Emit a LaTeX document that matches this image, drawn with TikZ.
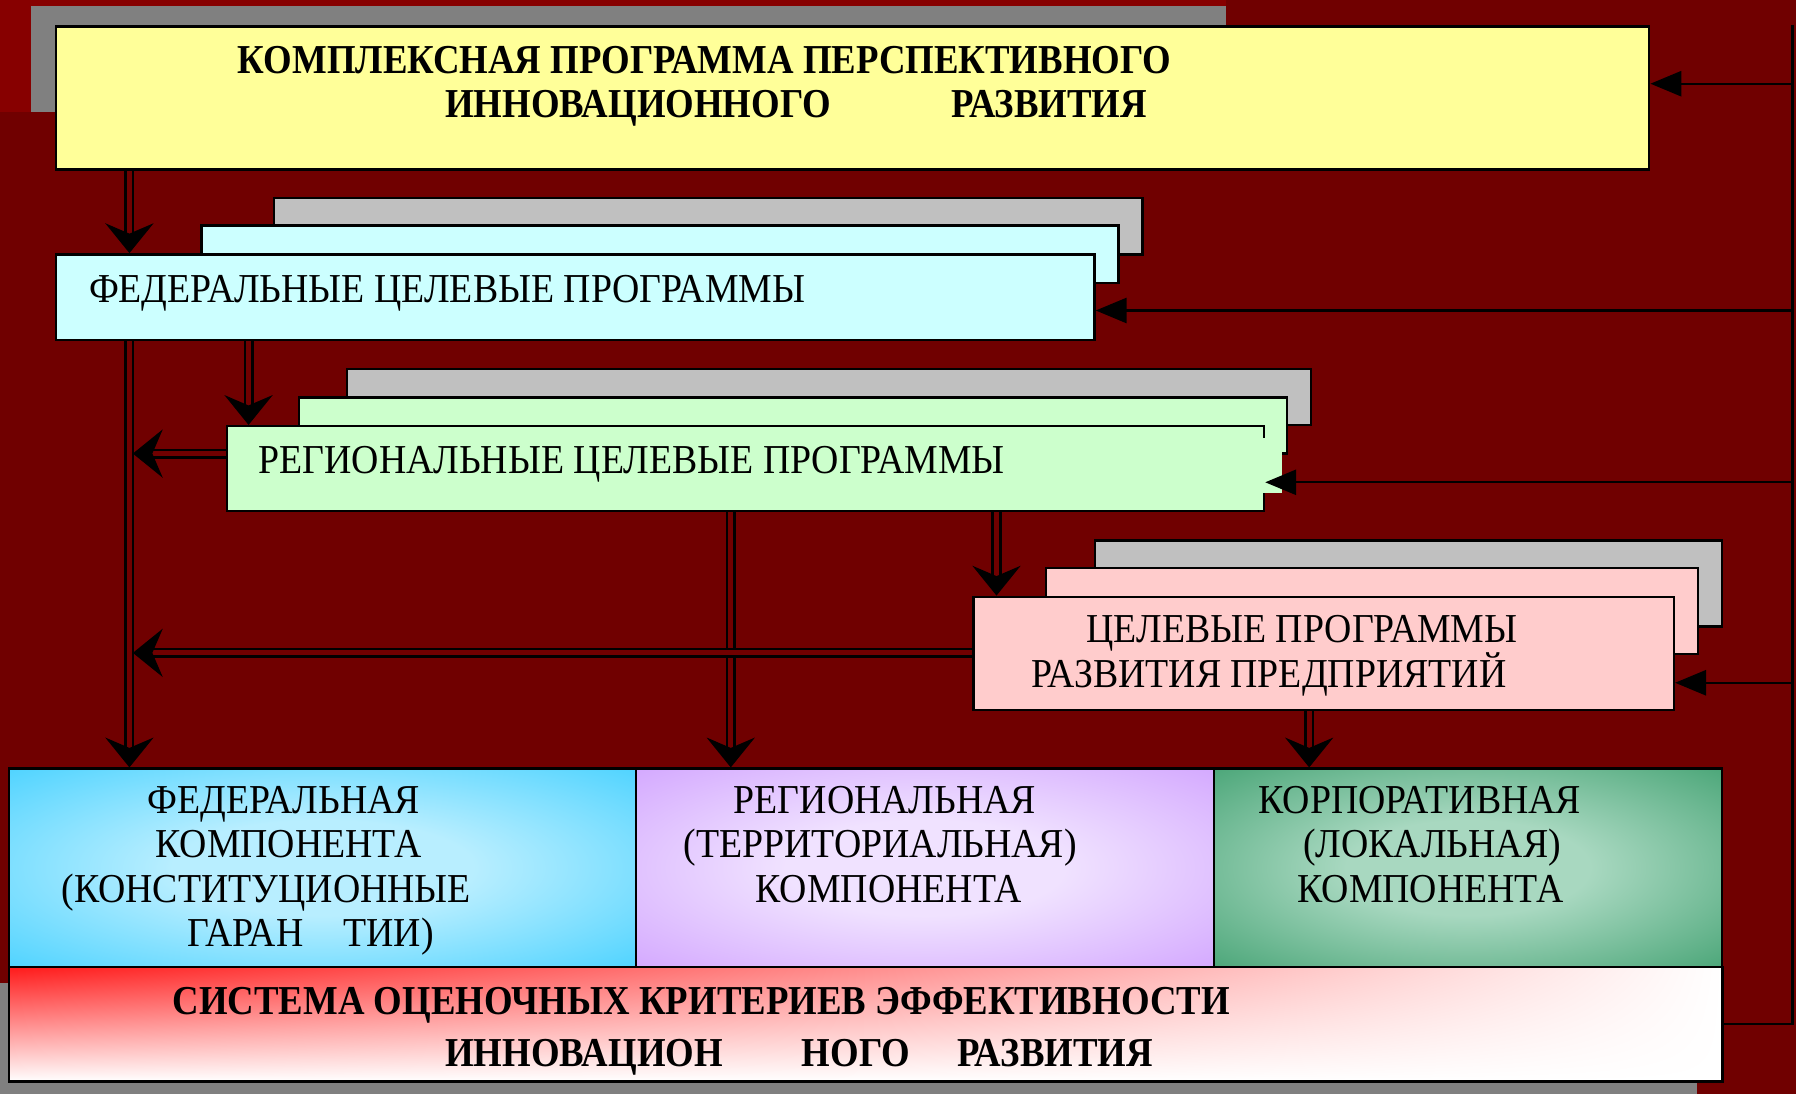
\documentclass[tikz,border=0pt]{standalone}
\usepackage{fontspec}
\setmainfont{Liberation Serif}
\newfontfamily\condn[FakeStretch=0.92]{Liberation Serif}
\newfontfamily\condb[FakeStretch=0.895]{Liberation Serif Bold}
\usetikzlibrary{arrows.meta,shadings}
\definecolor{bgred}{HTML}{700000}
\definecolor{topred}{HTML}{870000}
\definecolor{shadow}{HTML}{808080}
\definecolor{backgray}{HTML}{C0C0C0}
\definecolor{titlefill}{HTML}{FFFF99}
\definecolor{fedfill}{HTML}{CCFFFF}
\definecolor{regfill}{HTML}{CCFFCC}
\definecolor{entfill}{HTML}{FFCCCC}
\definecolor{fedkA}{HTML}{33CCFF}
\definecolor{fedkB}{HTML}{B8EEFF}
\definecolor{regkA}{HTML}{CC99FF}
\definecolor{regkB}{HTML}{F0E2FF}
\definecolor{corkA}{HTML}{339966}
\definecolor{corkB}{HTML}{A8D8C0}
\definecolor{sysred}{HTML}{FF1A1A}
\pgfdeclareradialshading{fedglow}{\pgfpoint{0bp}{0bp}}%
  {color(0bp)=(fedkB); color(12bp)=(fedkB); color(42bp)=(fedkA); color(50bp)=(fedkA)}
\pgfdeclareradialshading{regglow}{\pgfpoint{0bp}{0bp}}%
  {color(0bp)=(regkB); color(12bp)=(regkB); color(42bp)=(regkA); color(50bp)=(regkA)}
\pgfdeclareradialshading{corglow}{\pgfpoint{0bp}{0bp}}%
  {color(0bp)=(corkB); color(12bp)=(corkB); color(42bp)=(corkA); color(50bp)=(corkA)}
\newcommand{\txtsize}{\fontsize{10.2}{12}\selectfont}

\begin{document}
\begin{tikzpicture}[x=0.01cm,y=-0.01cm,
   box/.style={draw=black,line width=0.6pt,inner sep=0pt,anchor=north west},
   nt/.style={inner sep=0pt,anchor=base west,font=\condn\txtsize},
   bt/.style={inner sep=0pt,anchor=base west,font=\condb\txtsize},
   dbl/.style={draw=black,double=bgred,double distance=1.2pt,line width=0.65pt,
     -{Stealth[length=0.26cm,width=0.42cm,inset=0.09cm]}},
   fb/.style={draw=black,line width=0.55pt},
   fbarrow/.style={fb,-{Triangle[length=0.27cm,width=0.22cm]}}]
   \useasboundingbox (0,0) rectangle (1568,955);
   % background
   \fill[bgred]  (0,0) rectangle (1568,955);
   \fill[topred] (0,0) rectangle (1070,98);
   \fill[shadow] (27,5) rectangle (1070,98);
   \fill[shadow] (0,858) rectangle (1482,955);
   % boxes
   \node[box,fill=titlefill,minimum width=13.90cm,minimum height=1.25cm] (title) at (48,22) {};
   \node[box,fill=backgray,minimum width=7.58cm,minimum height=0.49cm] (fedb1) at (238,172) {};
   \node[box,fill=fedfill,minimum width=8.00cm,minimum height=0.50cm] (fedb2) at (175,196) {};
   \node[box,fill=fedfill,minimum width=9.06cm,minimum height=0.75cm] (fed) at (48,221) {};
   \node[box,fill=backgray,minimum width=8.41cm,minimum height=0.49cm] (regb1) at (302,321) {};
   \node[box,fill=regfill,minimum width=8.62cm,minimum height=0.49cm] (regb2) at (260,346) {};
   \node[box,fill=regfill,minimum width=9.05cm,minimum height=0.74cm] (reg) at (197,371) {};
   \fill[regfill] (1101,382) rectangle (1119,430);
   \node[box,fill=backgray,minimum width=5.47cm,minimum height=0.75cm] (entb1) at (955,471) {};
   \node[box,fill=entfill,minimum width=5.69cm,minimum height=0.75cm] (entb2) at (912,495) {};
   \node[box,fill=entfill,minimum width=6.11cm,minimum height=0.99cm] (ent) at (849,520) {};
   \node[box,shade,shading=fedglow,minimum width=5.47cm,minimum height=1.73cm] (fedk) at (7,670) {};
   \node[box,shade,shading=regglow,minimum width=5.05cm,minimum height=1.73cm] (regk) at (554,670) {};
   \node[box,shade,shading=corglow,minimum width=4.43cm,minimum height=1.73cm] (corpk) at (1059,670) {};
   \node[box,upper left=sysred,upper right=white,lower left=white,lower right=white,
     minimum width=14.95cm,minimum height=1.00cm] (sys) at (7,843) {};
   % texts
   \node[bt] (t1) at (207,64) {КОМПЛЕКСНАЯ ПРОГРАММА ПЕРСПЕКТИВНОГО};
   \node[bt] (t2) at (388,103) {ИННОВАЦИОННОГО\hspace{1.05cm}РАЗВИТИЯ};
   \node[nt] (ft) at (77,264) {ФЕДЕРАЛЬНЫЕ ЦЕЛЕВЫЕ ПРОГРАММЫ};
   \node[nt] (rt) at (225,413) {РЕГИОНАЛЬНЫЕ ЦЕЛЕВЫЕ ПРОГРАММЫ};
   \node[nt] (et1) at (948,561) {ЦЕЛЕВЫЕ ПРОГРАММЫ};
   \node[nt] (et2) at (900,600) {РАЗВИТИЯ ПРЕДПРИЯТИЙ};
   \node[nt] (fk1) at (128,710) {ФЕДЕРАЛЬНАЯ};
   \node[nt] (fk2) at (135,749) {КОМПОНЕНТА};
   \node[nt] (fk3) at (53,788) {(КОНСТИТУЦИОННЫЕ};
   \node[nt] (fk4) at (163,826) {ГАРАН\hspace{0.35cm}ТИИ)};
   \node[nt] (rk1) at (640,710) {РЕГИОНАЛЬНАЯ};
   \node[nt] (rk2) at (596,749) {(ТЕРРИТОРИАЛЬНАЯ)};
   \node[nt] (rk3) at (659,788) {КОМПОНЕНТА};
   \node[nt] (ck1) at (1098,710) {КОРПОРАТИВНАЯ};
   \node[nt] (ck2) at (1137,749) {(ЛОКАЛЬНАЯ)};
   \node[nt] (ck3) at (1132,788) {КОМПОНЕНТА};
   \node[bt] (s1) at (150,886) {СИСТЕМА ОЦЕНОЧНЫХ КРИТЕРИЕВ ЭФФЕКТИВНОСТИ};
   \node[bt] (s2) at (388,931) {ИННОВАЦИОН\hspace{0.69cm}НОГО\hspace{0.41cm}РАЗВИТИЯ};
   % links
   \coordinate (tl) at (113,0);
   \coordinate (fr) at (217,0);
   \coordinate (rr) at (638,0);
   \coordinate (re) at (870,0);
   \coordinate (ec) at (1143,0);
   \coordinate (ra) at (116,396);
   \coordinate (ea) at (116,570);
   \coordinate (rl) at (1565,0);
   \draw[dbl] (title.south -| tl) -- (fed.north -| tl);
   \draw[dbl] (fed.south -| tl) -- (fedk.north -| tl);
   \draw[dbl] (fed.south -| fr) -- (reg.north -| fr);
   \draw[dbl] (reg.west |- ra) -- (ra);
   \draw[dbl] (reg.south -| rr) -- (regk.north -| rr);
   \draw[dbl] (reg.south -| re) -- (ent.north -| re);
   \draw[dbl] (ent.west |- ea) -- (ea);
   \draw[dbl] (ent.south -| ec) -- (corpk.north -| ec);
   % feedback
   \draw[fb] (sys.east) -- (sys.east -| rl) -- (rl |- title.north);
   \draw[fbarrow] ([yshift=0.125cm]title.east -| rl) -- ([yshift=0.125cm]title.east);
   \draw[fbarrow] ([yshift=-0.115cm]fed.east -| rl) -- ([yshift=-0.115cm]fed.east);
   \draw[fbarrow] ([yshift=-0.12cm]reg.east -| rl) -- ([yshift=-0.12cm]reg.east);
   \draw[fbarrow] ([yshift=-0.255cm]ent.east -| rl) -- ([yshift=-0.255cm]ent.east);
\end{tikzpicture}
\end{document}
